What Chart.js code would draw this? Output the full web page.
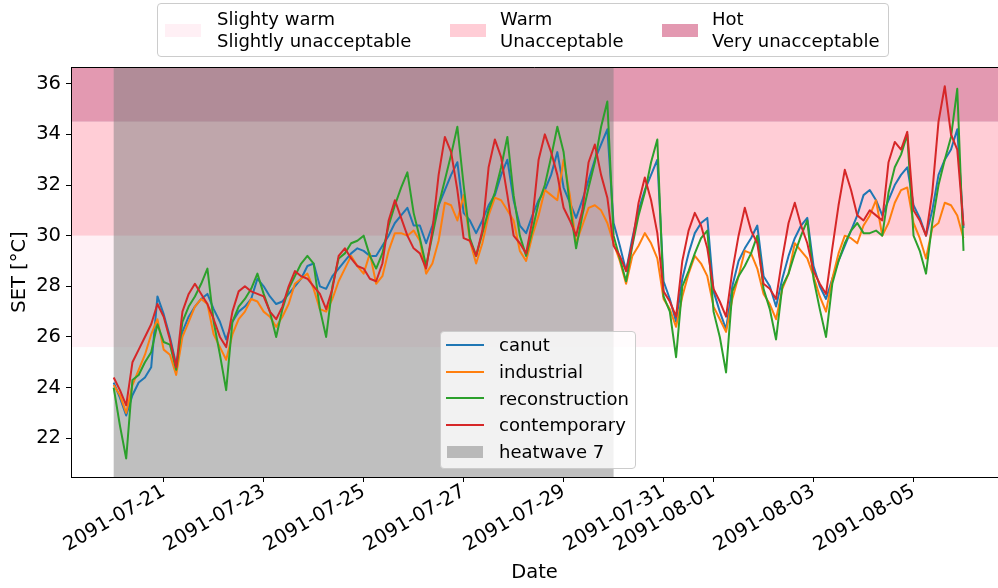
<!DOCTYPE html>
<html>
<head>
<meta charset="utf-8">
<title>SET heatwave 7</title>
<script src="https://cdn.jsdelivr.net/npm/chart.js@4.4.0/dist/chart.umd.min.js"></script>
<style>
  body { margin: 0; background: #fff; font-family: "DejaVu Sans", sans-serif; }
  #wrap { position: relative; width: 998px; height: 588px; overflow: hidden; }
  #myChart { position: absolute; left: 0; top: 0; }
  .legend { position: absolute; box-sizing: border-box; background: rgba(255, 255, 255, 0.8);
            border: 1px solid #cccccc; border-radius: 4px; font-size: 18px; color: #000; }
  .legend div { position: absolute; white-space: nowrap; }
  .legend .txt { line-height: 21.6px; }
  .legend .line { height: 2px; width: 38px; }
  .legend .patch { height: 12.6px; width: 36px; }
</style>
</head>
<body>
<div id="wrap">
  <canvas id="myChart" width="998" height="588"></canvas>

  <!-- comfort zones -->
  <div class="legend" style="left:157px; top:3px; width:732px; height:54px;">
    <div class="patch" style="left:7px; top:20px; background: rgb(255,240,245);"></div>
    <div class="txt" style="left:59px; top:4px;">Slighty warm<br>Slightly unacceptable</div>
    <div class="patch" style="left:292px; top:20px; background: rgb(255,205,214);"></div>
    <div class="txt" style="left:342px; top:4px;">Warm<br>Unacceptable</div>
    <div class="patch" style="left:504px; top:20px; background: rgb(227,153,177);"></div>
    <div class="txt" style="left:554px; top:4px;">Hot<br>Very unacceptable</div>
  </div>

  <!-- series -->
  <div class="legend" style="left:440px; top:331px; width:196px; height:138px;">
    <div class="line" style="left:5px; top:12px; background:#1f77b4;"></div>
    <div class="txt" style="left:58px; top:2px;">canut</div>
    <div class="line" style="left:5px; top:38.7px; background:#ff7f0e;"></div>
    <div class="txt" style="left:58px; top:28.9px;">industrial</div>
    <div class="line" style="left:5px; top:65.3px; background:#2ca02c;"></div>
    <div class="txt" style="left:58px; top:55.5px;">reconstruction</div>
    <div class="line" style="left:5px; top:92px; background:#d62728;"></div>
    <div class="txt" style="left:58px; top:82.2px;">contemporary</div>
    <div class="patch" style="left:6px; top:113.7px; background: rgba(128,128,128,0.5);"></div>
    <div class="txt" style="left:58px; top:109.2px;">heatwave 7</div>
  </div>
</div>

<script>
// SET values every 3 hours, starting 2091-07-20 00:00
const STEP_HOURS = 3;

const canut = [
  24.2, 23.6, 22.9, 23.7, 24.2, 24.4, 24.8, 27.6,
  26.9, 26.0, 24.9, 26.2, 26.8, 27.2, 27.5, 27.7,
  27.1, 26.6, 25.9, 26.6, 27.0, 27.2, 27.5, 28.3,
  28.0, 27.6, 27.3, 27.4, 27.7, 28.0, 28.3, 28.8,
  28.9, 28.0, 27.9, 28.4, 28.7, 29.0, 29.3, 29.5,
  29.4, 29.2, 29.2, 29.6, 30.0, 30.5, 30.8, 31.1,
  30.4, 30.4, 29.7, 30.4, 31.2, 31.8, 32.4, 32.9,
  30.9, 30.6, 30.1, 30.6, 31.2, 31.6, 32.4, 33.0,
  31.4, 30.4, 30.1, 30.8, 31.4, 31.8, 32.4, 33.3,
  31.9, 31.3, 30.7, 31.4, 32.2, 33.0, 33.6, 34.2,
  30.5, 29.6, 28.6, 29.9, 31.0, 31.8, 32.4, 33.0,
  28.2, 27.5, 26.6, 28.3, 29.3, 30.1, 30.5, 30.7,
  27.8, 27.0, 26.3, 28.0, 29.0, 29.5, 29.9, 30.4,
  28.4, 28.0, 27.2, 28.3, 29.2, 29.9, 30.4, 30.7,
  28.8, 28.0, 27.5, 28.3, 29.0, 29.6, 30.2, 30.8,
  31.6, 31.8, 31.4, 30.8, 31.4, 32.0, 32.4, 32.7,
  31.2, 30.7, 30.0, 31.0, 32.4, 33.0, 33.4, 34.2,
  30.3
];

const industrial = [
  24.1, 23.7, 23.0, 24.1, 24.7, 25.3, 26.1, 26.7,
  25.5, 25.3, 24.5, 26.0, 26.6, 27.2, 27.5, 27.3,
  26.1, 25.6, 25.1, 26.1, 26.7, 27.0, 27.5, 27.4,
  27.0, 26.8, 26.4, 26.8, 27.3, 28.1, 28.3, 28.5,
  27.9, 27.1, 27.0, 27.5, 28.2, 28.7, 29.2, 28.8,
  28.5, 29.3, 28.1, 28.4, 29.4, 30.1, 30.1, 30.0,
  30.2, 29.8, 28.5, 28.9, 29.8, 31.3, 31.2, 30.6,
  31.6, 29.8, 28.9, 29.7, 30.8, 31.5, 31.4, 31.0,
  30.6, 29.4, 29.0, 30.0, 30.8, 31.8, 31.6, 31.4,
  33.0, 31.6, 29.7, 30.4, 31.1, 31.2, 31.0, 30.5,
  29.7, 29.0, 28.1, 29.2, 29.6, 30.1, 29.7, 29.1,
  27.5, 27.1, 26.4, 27.6, 28.5, 29.2, 28.9, 28.4,
  27.2, 26.7, 26.2, 27.5, 28.4, 29.4, 29.3, 28.7,
  27.7, 27.3, 26.7, 27.9, 28.5, 29.7, 29.4, 29.1,
  28.4, 27.6, 27.0, 28.3, 29.3, 30.0, 29.9, 29.7,
  30.4, 30.8, 31.4, 30.0, 30.5, 31.3, 31.8, 31.9,
  30.5, 29.9, 29.1, 30.3, 30.5, 31.3, 31.2, 30.8,
  29.9
];

const reconstruction = [
  24.0, 22.5, 21.2, 24.3, 24.5, 25.0, 25.4, 26.5,
  25.8, 25.7, 24.7, 26.6, 27.2, 27.6, 28.1, 28.7,
  26.6, 25.3, 23.9, 26.6, 27.2, 27.5, 27.9, 28.5,
  27.7, 27.0, 26.0, 27.1, 27.9, 28.4, 28.9, 29.2,
  28.9, 27.1, 26.0, 28.0, 29.1, 29.3, 29.7, 29.8,
  30.0, 29.2, 28.7, 29.3, 30.4, 31.2, 31.9, 32.5,
  30.9, 29.9, 28.8, 30.0, 31.2, 32.2, 33.2, 34.3,
  32.0, 29.9, 29.2, 30.1, 31.0, 31.7, 32.7, 33.9,
  31.6, 30.0, 29.2, 30.2, 31.3, 32.0, 33.1, 34.3,
  33.3, 31.2, 29.5, 30.8, 31.9, 32.9, 34.3, 35.3,
  30.0, 29.1, 28.2, 29.6, 30.8, 31.7, 32.9, 33.8,
  27.6, 27.0, 25.2, 28.0, 28.6, 29.3, 29.9, 30.2,
  27.0, 26.0, 24.6, 27.8, 28.4, 28.8, 29.3, 30.0,
  27.9, 27.1, 25.9, 28.0, 28.5, 29.3, 30.0, 30.6,
  28.3, 27.1, 26.0, 28.1, 29.0, 29.7, 30.2, 30.5,
  30.1, 30.1, 30.2, 30.0, 31.7, 32.7, 33.2, 34.0,
  30.0, 29.4, 28.5, 30.5, 32.0, 33.0, 33.9, 35.8,
  29.4
];

const contemporary = [
  24.4, 23.9, 23.3, 25.0, 25.5, 26.0, 26.5, 27.3,
  26.8, 25.9, 24.8, 27.0, 27.7, 28.1, 27.7, 27.3,
  26.7, 26.0, 25.6, 27.0, 27.8, 28.0, 27.8, 27.7,
  27.6, 27.0, 26.7, 27.2, 28.0, 28.6, 28.4, 28.3,
  28.0, 27.7, 27.1, 27.9, 29.2, 29.5, 29.1, 28.8,
  28.7, 28.3, 28.2, 28.9, 30.6, 31.4, 30.7, 30.0,
  29.5, 29.3, 28.7, 30.2, 32.4, 33.9, 33.3, 31.8,
  29.9, 29.8, 29.2, 30.2, 32.7, 33.8, 33.1, 31.6,
  30.0, 29.7, 29.3, 30.6, 33.0, 34.0, 33.3, 32.4,
  31.1, 30.6, 30.0, 31.0, 32.9, 33.6, 32.4, 31.5,
  29.6, 29.2, 28.6, 29.7, 31.3, 32.3, 31.4, 30.1,
  27.8, 27.4, 26.8, 29.0, 30.2, 30.9, 30.4, 29.5,
  27.9, 27.4, 26.8, 28.6, 30.0, 31.1, 30.2, 29.7,
  28.1, 27.9, 27.5, 29.1, 30.5, 31.3, 30.4, 29.7,
  28.6, 28.1, 27.7, 29.5, 31.2, 32.6, 31.8, 30.8,
  30.6, 31.0, 30.8, 30.6, 32.9, 33.7, 33.4, 34.1,
  31.0, 30.6, 30.0, 31.7, 34.5, 35.9, 34.0, 33.4,
  30.4
];

// comfort bands (SET °C): slighty warm, warm, hot
const bandLower = [25.6, 30.0, 34.5];
const bandUpper = [30.0, 34.5, Infinity];
const bandColors = ["rgb(255,240,245)", "rgb(255,205,214)", "rgb(227,153,177)"];

// heatwave 7, in days from 2091-07-20
const heatwaveStart = 0;
const heatwaveEnd = 10;

// x ticks (days from 2091-07-20) and their labels
const tickDays = [1, 3, 5, 7, 9, 11, 12, 14, 16];
const tickLabels = ["2091-07-21", "2091-07-23", "2091-07-25", "2091-07-27", "2091-07-29",
                    "2091-07-31", "2091-08-01", "2091-08-03", "2091-08-05"];
const yTicks = [22, 24, 26, 28, 30, 32, 34, 36];

const toPoints = (arr) => arr.map((v, i) => ({ x: i * STEP_HOURS / 24, y: v }));

const FONT = { family: "DejaVu Sans", size: 19.5 };

// shaded zones behind the lines
const zonesPlugin = {
  id: "zones",
  beforeDraw(chart) {
    const { ctx, chartArea: a, scales: { x, y } } = chart;
    ctx.save();
    ctx.beginPath();
    ctx.rect(a.left, a.top, a.right - a.left, a.bottom - a.top);
    ctx.clip();
    bandLower.forEach((lo, i) => {
      const yTop = bandUpper[i] === Infinity ? a.top : y.getPixelForValue(bandUpper[i]);
      const yBot = y.getPixelForValue(lo);
      ctx.fillStyle = bandColors[i];
      ctx.fillRect(a.left, yTop, a.right - a.left, yBot - yTop);
    });
    const x0 = x.getPixelForValue(heatwaveStart);
    const x1 = x.getPixelForValue(heatwaveEnd);
    ctx.fillStyle = "rgba(128,128,128,0.5)";
    ctx.fillRect(x0, a.top, x1 - x0, a.bottom - a.top);
    ctx.restore();
  },
  afterDraw(chart) {
    // top spine
    const { ctx, chartArea: a } = chart;
    ctx.save();
    ctx.strokeStyle = "#000";
    ctx.lineWidth = 1;
    ctx.beginPath();
    ctx.moveTo(a.left, Math.round(a.top) + 0.5);
    ctx.lineTo(a.right, Math.round(a.top) + 0.5);
    ctx.stroke();
    ctx.restore();
  }
};

const line = (label, data, color, order) => ({
  label, data: toPoints(data), borderColor: color, backgroundColor: color,
  borderWidth: 2, pointRadius: 0, tension: 0, order,
  borderJoinStyle: "round"
});

const ctx = document.getElementById("myChart").getContext("2d");
const myChart = new Chart(ctx, {
  type: "line",
  data: {
    datasets: [
      line("canut", canut, "#1f77b4", 4),
      line("industrial", industrial, "#ff7f0e", 3),
      line("reconstruction", reconstruction, "#2ca02c", 2),
      line("contemporary", contemporary, "#d62728", 1)
    ]
  },
  options: {
    responsive: false,
    animation: false,
    devicePixelRatio: 1,
    layout: { padding: { top: 67, left: 0, right: 0, bottom: 0 } },
    plugins: { legend: { display: false }, tooltip: { enabled: false } },
    scales: {
      x: {
        type: "linear",
        min: -0.854,
        max: 17.69,
        afterBuildTicks: (scale) => { scale.ticks = tickDays.map((d) => ({ value: d })); },
        afterFit: (scale) => { scale.height = 111; },
        ticks: {
          autoSkip: false,
          minRotation: 30,
          maxRotation: 30,
          padding: -2,
          color: "#000",
          font: FONT,
          callback: (value) => tickLabels[tickDays.indexOf(value)]
        },
        grid: { drawOnChartArea: false, drawTicks: true, tickLength: 5, color: "#000" },
        border: { display: true, color: "#000", width: 1 },
        title: { display: true, text: "Date", color: "#000", font: FONT, padding: { top: 0, bottom: 3 } }
      },
      y: {
        min: 20.47,
        max: 36.66,
        afterBuildTicks: (scale) => { scale.ticks = yTicks.map((v) => ({ value: v })); },
        afterFit: (scale) => { scale.width = 71; },
        ticks: { color: "#000", font: FONT, padding: 5 },
        grid: { drawOnChartArea: false, drawTicks: true, tickLength: 5, color: "#000" },
        border: { display: true, color: "#000", width: 1 },
        title: { display: true, text: "SET [°C]", color: "#000", font: FONT, padding: { top: 8, bottom: 0 } }
      }
    }
  },
  plugins: [zonesPlugin]
});
</script>
</body>
</html>
